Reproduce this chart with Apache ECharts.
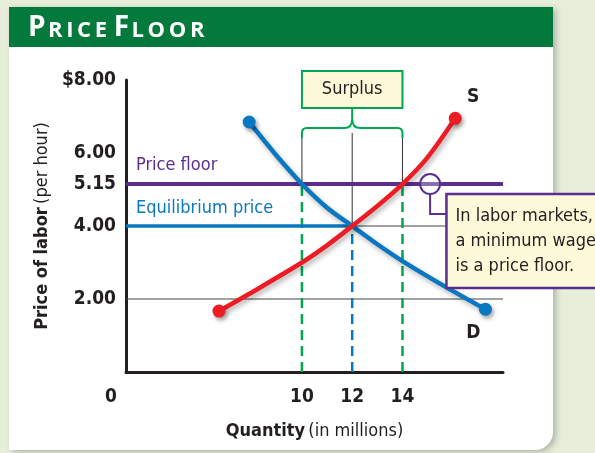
<!DOCTYPE html>
<html>
<head>
<meta charset="utf-8">
<script src="https://cdn.jsdelivr.net/npm/echarts@6/dist/echarts.min.js"></script>
<style>
  html, body { margin: 0; padding: 0; background: #e7efdb; }
  #main { width: 595px; height: 453px; }
</style>
</head>
<body>
<div id="main"></div>
<script>
// prices on the vertical axis, quantities (millions) on the horizontal one
var priceTicks = [2, 4, 5.15, 6, 8];
var quantityTicks = [10, 12, 14];
var gridPrices = [2, 4];

var supplyQ = [6.7, 8.1, 10, 11, 12, 13, 14, 15, 16.1];
var supplyP = [1.67, 2.22, 3.0, 3.47, 4.0, 4.55, 5.15, 5.88, 6.95];

var demandQ = [7.9, 8.9, 10, 11, 12, 13, 14, 15.7, 17.3];
var demandP = [6.85, 6.0, 5.15, 4.5, 4.0, 3.5, 3.04, 2.34, 1.72];

var floorPrice = 5.15;
var eqPrice = 4;
var eqQuantity = 12;
var surplusFrom = 10;
var surplusTo = 14;

var FONT = '"Liberation Sans Narrow", "DejaVu Sans Condensed", sans-serif';
var INK = '#231f20';
var RED = '#ed1c24', BLUE = '#0a77c2', PURPLE = '#5c2d91', GREEN = '#00a651';
var XMIN = 3, XMAX = 18;
var TS = '\u2009'; // thin space, stands in for the title's letter spacing

var chart = echarts.init(document.getElementById('main'), null, {renderer: 'canvas'});

function pairs(xs, ys) {
    return xs.map(function (x, i) { return [x, ys[i]]; });
}

function seg(name, data, color, width, type) {
    return {
        name: name, type: 'line', data: data, silent: true,
        symbol: 'none', animation: false,
        lineStyle: {color: color, width: width, type: type || 'solid'}
    };
}

function curve(name, xs, ys, color) {
    var last = xs.length - 1;
    return {
        name: name, type: 'line', data: pairs(xs, ys), silent: true, animation: false,
        smooth: 0.3,
        symbol: 'circle',
        symbolSize: function (v, p) { return (p.dataIndex === 0 || p.dataIndex === last) ? 13 : 0; },
        itemStyle: {color: color, shadowColor: 'rgba(0,0,0,0.35)', shadowBlur: 4, shadowOffsetX: 2, shadowOffsetY: 3},
        lineStyle: {color: color, width: 4.5, shadowColor: 'rgba(0,0,0,0.3)', shadowBlur: 5, shadowOffsetX: 2, shadowOffsetY: 3}
    };
}

function spaced(word) {
    return word.split('').join(TS);
}

var series = [];
// thin guide lines
gridPrices.forEach(function (p) {
    series.push(seg('grid' + p, [[XMIN, p], [XMAX, p]], '#444', 1));
});
series.push(seg('g10', [[surplusFrom, 6.55], [surplusFrom, floorPrice]], '#333', 1));
series.push(seg('g12', [[eqQuantity, 6.55], [eqQuantity, eqPrice]], '#333', 1));
series.push(seg('g14', [[surplusTo, 6.55], [surplusTo, floorPrice]], '#333', 1));
// dashed drops to the axis
series.push(seg('d10', [[surplusFrom, 0], [surplusFrom, floorPrice]], GREEN, 2.5, [10, 6]));
series.push(seg('d12', [[eqQuantity, 0], [eqQuantity, eqPrice]], BLUE, 2.5, [10, 6]));
series.push(seg('d14', [[surplusTo, 0], [surplusTo, floorPrice]], GREEN, 2.5, [10, 6]));
// price floor and equilibrium price
series.push(seg('floor', [[XMIN, floorPrice], [XMAX, floorPrice]], PURPLE, 4));
series.push(seg('eq', [[XMIN, eqPrice], [eqQuantity, eqPrice]], BLUE, 3.5));
// the curves
series.push(curve('D', demandQ, demandP, BLUE));
series.push(curve('S', supplyQ, supplyP, RED));

// annotations: surplus box + brace, callout, line labels
series.push({
    type: 'custom', silent: true, animation: false, clip: false, z: 5,
    data: [[eqQuantity, floorPrice]],
    renderItem: function (params, api) {
        var c = function (x, y) { return api.coord([x, y]); };
        var L = c(surplusFrom, 0)[0], R = c(surplusTo, 0)[0], M = c(eqQuantity, 0)[0];
        var yFloor = c(0, floorPrice)[1], yEq = c(0, eqPrice)[1];
        var top = 71, boxBot = 108, braceY = 128, braceBot = 138, tip = 119;
        var brace = 'M' + L + ' ' + braceBot + ' V' + (braceY + 5) +
            ' Q' + L + ' ' + braceY + ' ' + (L + 5) + ' ' + braceY +
            ' H' + (M - 8) + ' Q' + M + ' ' + braceY + ' ' + M + ' ' + tip +
            ' Q' + M + ' ' + braceY + ' ' + (M + 8) + ' ' + braceY +
            ' H' + (R - 5) + ' Q' + R + ' ' + braceY + ' ' + R + ' ' + (braceY + 5) +
            ' V' + braceBot + ' M' + M + ' ' + tip + ' V' + boxBot;
        var circ = c(15.1, floorPrice);
        var boxL = c(15.75, 0)[0], boxT = yFloor + 10, boxB = boxT + 94;
        var sEnd = c(supplyQ[supplyQ.length - 1], 0)[0], dEnd = c(demandQ[demandQ.length - 1], 0)[0];
        return {
            type: 'group',
            children: [
                {type: 'rect', shape: {x: L, y: top, width: R - L, height: boxBot - top},
                    style: {fill: '#fdf9d9', stroke: GREEN, lineWidth: 2}},
                {type: 'text', style: {text: 'Surplus', x: M, y: (top + boxBot) / 2, align: 'center', verticalAlign: 'middle',
                    fontFamily: FONT, fontSize: 18, fill: INK}},
                {type: 'path', shape: {pathData: brace}, style: {fill: 'none', stroke: GREEN, lineWidth: 2}},
                {type: 'circle', shape: {cx: circ[0], cy: circ[1], r: 10}, style: {fill: 'rgba(255,255,255,0.3)', stroke: PURPLE, lineWidth: 2}},
                {type: 'polyline', shape: {points: [[circ[0], circ[1] + 10], [circ[0], boxT + 20], [boxL, boxT + 20]]},
                    style: {fill: 'none', stroke: PURPLE, lineWidth: 2}},
                {type: 'rect', shape: {x: boxL, y: boxT, width: 160, height: boxB - boxT},
                    style: {fill: '#fdf9d9', stroke: PURPLE, lineWidth: 2.5}},
                {type: 'text', style: {text: 'In labor markets,\na minimum wage\nis a price floor.', x: boxL + 9, y: boxT + 10,
                    fontFamily: FONT, fontSize: 18, lineHeight: 25, fill: INK}},
                {type: 'text', style: {text: 'Price floor', x: c(XMIN, 0)[0] + 10, y: yFloor - 19, verticalAlign: 'middle',
                    fontFamily: FONT, fontSize: 18, fill: PURPLE}},
                {type: 'text', style: {text: 'Equilibrium price', x: c(XMIN, 0)[0] + 10, y: yEq - 18, verticalAlign: 'middle',
                    fontFamily: FONT, fontSize: 18, fill: BLUE}},
                {type: 'text', style: {text: 'S', x: sEnd + 18, y: 97, align: 'center', verticalAlign: 'middle',
                    fontFamily: FONT, fontSize: 19, fontWeight: 'bold', fill: INK}},
                {type: 'text', style: {text: 'D', x: dEnd - 12, y: 333, align: 'center', verticalAlign: 'middle',
                    fontFamily: FONT, fontSize: 19, fontWeight: 'bold', fill: INK}}
            ]
        };
    }
});

chart.setOption({
    backgroundColor: '#e7efdb',
    animation: false,
    grid: {left: 126, right: 92, top: 80, bottom: 81},
    graphic: [
        {type: 'rect', z: -10, shape: {x: 9, y: 7, width: 544, height: 443, r: [0, 0, 18, 0]},
            style: {fill: '#fff', shadowColor: 'rgba(0,0,0,0.25)', shadowBlur: 6, shadowOffsetX: 3, shadowOffsetY: 2}},
        {type: 'rect', z: -9, shape: {x: 9, y: 7, width: 544, height: 40}, style: {fill: '#037a3b'}},
        {type: 'text', z: 10, left: 28, top: 14, style: {
            text: '{c|P}' + TS + '{s|' + spaced('RICE') + '}  {c|F}' + TS + '{s|' + spaced('LOOR') + '}',
            rich: {
                c: {fontFamily: '"Open Sans", sans-serif', fontWeight: 'bold', fontSize: 28, fill: '#fff'},
                s: {fontFamily: '"Open Sans", sans-serif', fontWeight: 'bold', fontSize: 22, fill: '#fff', verticalAlign: 'bottom'}
            }
        }},
        {type: 'text', z: 10, left: 105, top: 388, style: {text: '0', fontFamily: FONT, fontWeight: 'bold', fontSize: 19, fill: INK}}
    ],
    xAxis: {
        type: 'value', min: XMIN, max: XMAX,
        axisLine: {lineStyle: {color: INK, width: 3}},
        axisTick: {show: false},
        splitLine: {show: false},
        axisLabel: {customValues: quantityTicks, margin: 16, fontFamily: FONT, fontWeight: 'bold', fontSize: 19, color: INK},
        name: '{b|Quantity} {r|(in millions)}',
        nameLocation: 'middle', nameGap: 50,
        nameTextStyle: {rich: {
            b: {fontFamily: FONT, fontWeight: 'bold', fontSize: 18, color: INK},
            r: {fontFamily: FONT, fontSize: 18, color: INK}
        }}
    },
    yAxis: {
        type: 'value', min: 0, max: 8,
        axisLine: {show: true, lineStyle: {color: INK, width: 3}},
        axisTick: {show: false},
        splitLine: {show: false},
        axisLabel: {
            customValues: priceTicks, margin: 10, fontFamily: FONT, fontWeight: 'bold', fontSize: 19, color: INK,
            formatter: function (v) { return v === 8 ? '$8.00' : v.toFixed(2); }
        },
        name: '{b|Price of labor} {r|(per hour)}',
        nameLocation: 'middle', nameRotate: 90, nameGap: 64,
        nameTextStyle: {rich: {
            b: {fontFamily: FONT, fontWeight: 'bold', fontSize: 18, color: INK},
            r: {fontFamily: FONT, fontSize: 18, color: INK}
        }}
    },
    series: series
});
</script>
</body>
</html>
